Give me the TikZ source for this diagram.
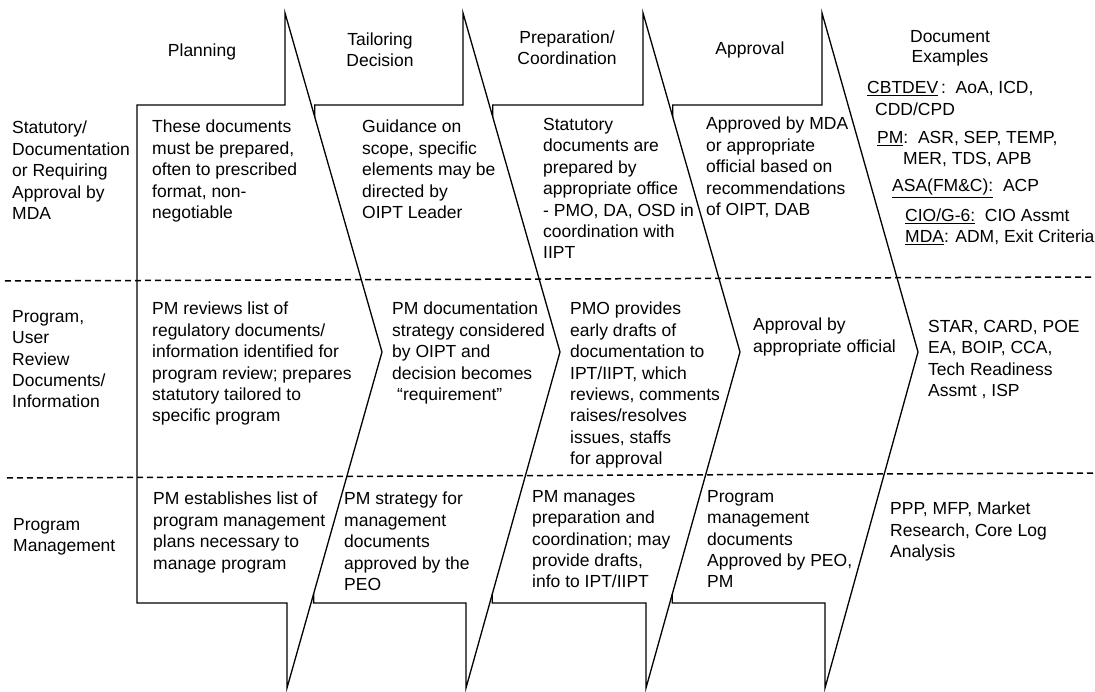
\documentclass[tikz,border=0pt]{standalone}
\usepackage{fontspec}
\setmainfont{Liberation Sans}
\usetikzlibrary{calc}
\newcommand{\fs}{\fontsize{17.5}{21.4}\selectfont}
\newcommand{\fh}{\fontsize{17.5}{20.5}\selectfont}
\begin{document}
\begin{tikzpicture}[x=1pt,y=-1pt,
  chev/.style={draw=black, line width=1.3pt, line join=miter},
  sepline/.style={draw=black, line width=1.5pt, dash pattern=on 6pt off 4pt},
  txt/.style={anchor=north west, inner sep=0pt, align=left, font=\fs},
  hdr/.style={anchor=north, inner sep=0pt, align=center, font=\fh}]
\useasboundingbox (0,0) rectangle (1095,692);

% chevron key points
\coordinate (t1) at (285,13); \coordinate (p1) at (382,352); \coordinate (b1) at (287,688);
\coordinate (t2) at (463,13); \coordinate (p2) at (560,352); \coordinate (b2) at (466,688);
\coordinate (t3) at (643,13); \coordinate (p3) at (740,352); \coordinate (b3) at (646,688);
\coordinate (t4) at (822,13); \coordinate (p4) at (918,352); \coordinate (b4) at (825,688);

% first chevron
\draw[chev] (137,105) -- (t1 |- 0,105) -- (t1) -- (p1) -- (b1) -- (b1 |- 0,603) -- (137,603) -- cycle;
% following chevrons, notched into the previous one
\foreach \i/\j in {1/2,2/3,3/4}{
  \coordinate (u\j) at ($(t\i)!0.307!(p\i)$);
  \coordinate (v\j) at ($(p\i)!0.72!(b\i)$);
  \draw[chev] (u\j) -- (u\j |- 0,105) -- (t\j |- 0,105) -- (t\j) -- (p\j) -- (b\j) -- (b\j |- 0,603) -- (v\j |- 0,603) -- (v\j);
}

% dashed separators
\coordinate (s1a) at (5,281); \coordinate (s1b) at (1095,277);
\coordinate (s2a) at (7,478); \coordinate (s2b) at (1095,473);
\draw[sepline] (s1a) -- (s1b);
\draw[sepline] (s2a) -- (s2b);

% headers
\node[hdr] (hPlan) at (202,44) {Planning};
\node[hdr] (hTail) at (380,33) {Tailoring\\Decision};
\node[hdr] (hPrep) at (567,31) {Preparation/\\Coordination};
\node[hdr] (hAppr) at (750,42) {Approval};
\node[hdr] (hDoc) at (950,30) {Document\\Examples};

% row labels
\node[txt] (r1) at (12,121) {Statutory/\\Documentation\\or Requiring\\Approval by\\MDA};
\node[txt] (r2) at (12,310) {Program,\\User\\Review\\Documents/\\Information};
\node[txt] (r3) at (13,518) {Program\\Management};

% chevron 1
\node[txt] (c11) at (152,120) {These documents\\must be prepared,\\often to prescribed\\format, non-\\negotiable};
\node[txt] (c12) at (152,302) {PM reviews list of\\regulatory documents/\\information identified for\\program review; prepares\\statutory tailored to\\specific program};
\node[txt] (c13) at (153,492) {PM establishes list of\\program management\\plans necessary to\\manage program};

% chevron 2
\node[txt] (c21) at (362,120) {Guidance on\\scope, specific\\elements may be\\directed by\\OIPT Leader};
\node[txt] (c22) at (392,302) {PM documentation\\strategy considered\\by OIPT and\\decision becomes\\\hspace*{5pt}“requirement”};
\node[txt] (c23) at (344,492) {PM strategy for\\management\\documents\\approved by the\\PEO};

% chevron 3
\node[txt] (c31) at (543,118) {Statutory\\documents are\\prepared by\\appropriate office\\- PMO, DA, OSD in\\coordination with\\IIPT};
\node[txt] (c32) at (570,302) {PMO provides\\early drafts of\\documentation to\\IPT/IIPT, which\\reviews, comments\\raises/resolves\\issues, staffs\\for approval};
\node[txt] (c33) at (532,490) {PM manages\\preparation and\\coordination; may\\provide drafts,\\info to IPT/IIPT};

% chevron 4
\node[txt] (c41) at (706,117) {Approved by MDA\\or appropriate\\official based on\\recommendations\\of OIPT, DAB};
\node[txt] (c42) at (753,318) {Approval by\\appropriate official};
\node[txt] (c43) at (707,490) {Program\\management\\documents\\Approved by PEO,\\PM};

% document examples
\node[txt] (d1) at (867,81) {\underline{CBTDEV}\,:\ \ AoA, ICD,};
\node[txt] (d2) at (875,103) {CDD/CPD};
\node[txt] (d3) at (877,131) {\underline{PM}:\ \ ASR, SEP, TEMP,};
\node[txt] (d4) at (903,152) {MER, TDS, APB};
\node[txt] (d5) at (892,179) {\underline{ASA(FM\&C):}\ \ ACP};
\node[txt] (d6) at (905,209) {\underline{CIO/G-6:}\ \ CIO Assmt};
\node[txt] (d7) at (905,230) {\underline{MDA}: ADM, Exit Criteria};
\node[txt] (d8) at (928,320) {STAR, CARD, POE\\EA, BOIP, CCA,\\Tech Readiness\\Assmt , ISP};
\node[txt] (d9) at (890,502) {PPP, MFP, Market\\Research, Core Log\\Analysis};
\end{tikzpicture}
\end{document}
